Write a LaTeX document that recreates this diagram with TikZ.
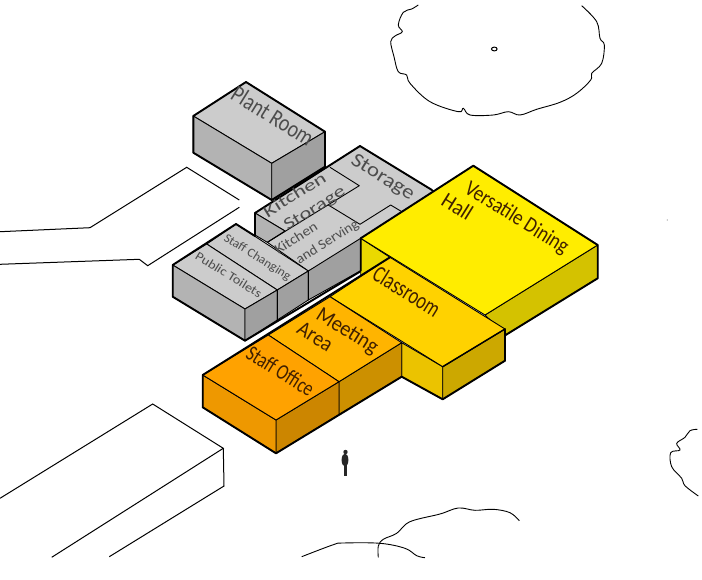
\documentclass[tikz,border=0pt]{standalone}
\usepackage{fontspec}
\setmainfont{Carlito}
\usetikzlibrary{positioning}
\definecolor{greytop}{HTML}{CCCCCC}
\definecolor{greyleft}{HTML}{B3B3B3}
\definecolor{greyright}{HTML}{A0A0A0}
\definecolor{halltop}{HTML}{FFED00}
\definecolor{hallleft}{HTML}{EAD900}
\definecolor{hallright}{HTML}{D4C200}
\definecolor{classtop}{HTML}{FFD200}
\definecolor{classleft}{HTML}{EBC300}
\definecolor{classright}{HTML}{CCA800}
\definecolor{meettop}{HTML}{FFB400}
\definecolor{meetright}{HTML}{CC9000}
\definecolor{stafftop}{HTML}{FFA200}
\definecolor{staffleft}{HTML}{EE9800}
\definecolor{staffright}{HTML}{CC8600}
\tikzset{
  face/.style     = {draw=black, line width=0.9pt, line join=round},
  outer/.style    = {draw=black, line width=1.9pt, line join=round, line cap=round},
  site/.style     = {draw=black, line width=1pt},
  tree/.style     = {draw=black, line width=0.9pt, smooth, tension=0.6},
  fs/.style       = {font=\fontsize{#1}{#1}\selectfont},
  lab/.style      = {text=black!70, inner sep=0pt, text height=0.62em, text depth=0.06em},
  labdown/.style  = {lab, rotate=-32},
  labup/.style    = {lab, rotate=32},
  warm/.style     = {text=black!75!orange, inner sep=0pt, text height=0.62em, text depth=0.06em, rotate=-32}
}
\begin{document}
\begin{tikzpicture}[x=1pt, y=-1pt]
  \useasboundingbox (0,0) rectangle (702,579);
  % site outlines
  \draw[site] (0,231.7) -- (90,227.7) -- (186.7,167.3) -- (239.3,200);
  \draw[site] (239.3,207.3) -- (147.7,265.7) -- (139.3,259.3) -- (0,264.3);
  \draw[site] (0,498.3) -- (152.7,404) -- (223.3,448.3) -- (51.7,557.3);
  \draw[site] (223.3,448.3) -- (224,486) -- (109.3,556.7);
  % trees
  \draw[tree] plot coordinates {(418.3,5) (411.7,9) (403.3,12.3) (398.3,25) (402.3,31.7) (395,36) (390.7,41.7)
    (394,56.7) (398.3,71.7) (406.7,75) (410,83.3) (430,101.7) (458.3,111.7) (463.3,108.3) (470,115) (493.3,115)
    (508.3,111.7) (520,115) (536.7,109.3) (560,102.3) (576.7,93.3) (590.7,80) (591.7,73.3) (601.7,63.3)
    (604.3,45) (600,38.3) (596.7,21.7) (581.7,5.7)};
  \draw[site] (494.3,49) ellipse (2.8 and 1.9);
  \draw[tree] plot coordinates {(301.7,556.7) (333.3,544.7) (343.3,543) (380,543.3) (405,548.3) (416.7,555.7) (425,557.7)};
  \draw[tree] plot coordinates {(378.3,557.3) (378.3,546) (383.3,539.3) (396.7,533.3) (410,521.7) (440,514)
    (458.3,508) (475,510.3) (493.3,509.3) (510,512.7) (519.3,520.7)};
  \draw[tree] plot coordinates {(697.3,429.3) (690,430.7) (685,437.3) (676.7,443.3) (680,450) (670.7,452.7)
    (671.7,466.7) (681.7,478.3) (685,485.7) (698.3,496)};
  \fill[black!45] (667.3,220) circle (0.6);
  % person
  \fill[black!85] (345.5,452) circle (2.2);
  \fill[black!85] (345,460) ellipse (3.4 and 6.5);
  \fill[black!85] (343.9,462) rectangle (346.6,476);
  % plant room
  \filldraw[face, fill=greytop]   (193.3,116) -- (246,82) -- (325,131.7) -- (271.7,163.3) -- cycle;
  \filldraw[face, fill=greyleft]  (193.3,116) -- (271.7,163.3) -- (271.7,200) -- (193.3,152.7) -- cycle;
  \filldraw[face, fill=greyright] (271.7,163.3) -- (325,131.7) -- (325,166.7) -- (271.7,200) -- cycle;
  \draw[outer] (271.7,200) -- (193.3,152.7) -- (193.3,116) -- (246,82) -- (325,131.7) -- (325,166.7) -- cycle;
  % kitchen and storage
  \filldraw[face, fill=greytop]  (255,213) -- (360,146) -- (440,195) -- (360,246) -- (308.3,271) -- (267.3,242.3) -- (285,231) -- cycle;
  \filldraw[face, fill=greyleft] (255,213) -- (285,231) -- (267.3,242.3) -- (255,235) -- cycle;
  \draw[face] (330,167.3) -- (359.3,185.7) -- (267.3,242.3);
  \draw[face] (328.3,205) -- (360,224.3) -- (390.7,205) -- (404,213);
  \draw[outer] (255,235) -- (255,213) -- (360,146) -- (432,190);
  % changing and toilets
  \filldraw[face, fill=greytop]   (206.7,244) -- (236,224) -- (308.3,271) -- (277.3,290) -- cycle;
  \filldraw[face, fill=greytop]   (172.7,265) -- (206.7,244) -- (277.3,290) -- (245,309) -- cycle;
  \filldraw[face, fill=greyleft]  (172.7,265) -- (245,309) -- (245,340.7) -- (172.7,296.7) -- cycle;
  \filldraw[face, fill=greyright] (245,309) -- (277.3,290) -- (277.3,320) -- (245,340.7) -- cycle;
  \filldraw[face, fill=greyright] (277.3,290) -- (308.3,271) -- (308.3,300) -- (277.3,320) -- cycle;
  \filldraw[face, fill=greyright] (308.3,271) -- (360.7,238.3) -- (360.7,270.7) -- (308.3,300) -- cycle;
  \draw[outer] (255,236) -- (236,224) -- (172.7,265) -- (172.7,296.7) -- (245,340.7) -- (361.5,270.7);
  % dining hall
  \filldraw[face, fill=hallright] (485,315) -- (597.7,245) -- (597.7,278.3) -- (505.7,335) -- cycle;
  \filldraw[face, fill=hallleft]  (360.7,238.3) -- (390,257.3) -- (360.7,276) -- cycle;
  \filldraw[face, fill=halltop]   (360.7,238.3) -- (473.3,165.7) -- (597.7,245) -- (485,315) -- cycle;
  \draw[outer] (360.7,270.7) -- (360.7,238.3) -- (473.3,165.7) -- (597.7,245) -- (597.7,278.3) -- (505.7,335);
  % classroom
  \filldraw[face, fill=classleft]  (401.7,342.7) -- (442.7,366.7) -- (442.7,399.3) -- (401.7,376.7) -- cycle;
  \filldraw[face, fill=classright] (442.7,366.7) -- (505,329) -- (505,360.7) -- (442.7,399.3) -- cycle;
  \filldraw[face, fill=classtop]   (390,257.3) -- (505,329) -- (442.7,366.7) -- (330,296.7) -- cycle;
  % meeting area and staff office
  \filldraw[face, fill=meetright]  (339,381.7) -- (401.7,342.7) -- (401.7,376.7) -- (339,414.5) -- cycle;
  \filldraw[face, fill=meettop]    (330,296.7) -- (401.7,342.7) -- (339,381.7) -- (268.3,335) -- cycle;
  \filldraw[face, fill=staffright] (276,420) -- (339,381.7) -- (339,414.5) -- (276,453.3) -- cycle;
  \filldraw[face, fill=staffleft]  (202.7,375) -- (276,420) -- (276,453.3) -- (202.7,407.3) -- cycle;
  \filldraw[face, fill=stafftop]   (268.3,335) -- (339,381.7) -- (276,420) -- (202.7,375) -- cycle;
  \draw[outer] (390,257.3) -- (202.7,375) -- (202.7,407.3) -- (276,453.3) -- (401.7,376.7) -- (442.7,399.3) -- (505,360.7) -- (505,329);
  \draw[face, line width=1.4pt] (442.7,366.7) -- (505,329);
  % labels
  \node[labdown, fs=24, xscale=0.82] (plant) at (270,120.5) {Plant Room};
  \node[labdown, fs=20, xscale=1.15] (storage) at (381.5,179.5) {Storage};
  \node[labup, fs=16.5, xscale=1.4] (kitchenstore) at (296,197) {Kitchen};
  \node[labup, fs=16.5, xscale=1.36] (kitstorage) at (315.5,210) {Storage};
  \node[labup, fs=14, xscale=1.12] (kitchenserve) at (297,239.5) {Kitchen};
  \node[labup, fs=14, xscale=1.07] (serving) at (328,243) {and Serving};
  \node[labdown, fs=12.5, xscale=1.05] (changing) at (257,258) {Staff Changing};
  \node[labdown, fs=12.5, xscale=1.15] (toilets) at (228,276) {Public Toilets};
  \node[warm, fs=22, xscale=0.85] (dining) at (515,221) {Versatile Dining};
  \node[warm, fs=22, xscale=0.93] (hall) at (455,210.5) {Hall};
  \node[warm, fs=24, xscale=0.74] (classroom) at (404,296) {Classroom};
  \node[warm, fs=22, xscale=0.92] (meeting) at (345.5,334) {Meeting};
  \node[warm, fs=22, xscale=0.9] (area) at (313,340) {Area};
  \node[warm, fs=22, xscale=0.77] (office) at (278,375) {Staff Office};
\end{tikzpicture}
\end{document}
